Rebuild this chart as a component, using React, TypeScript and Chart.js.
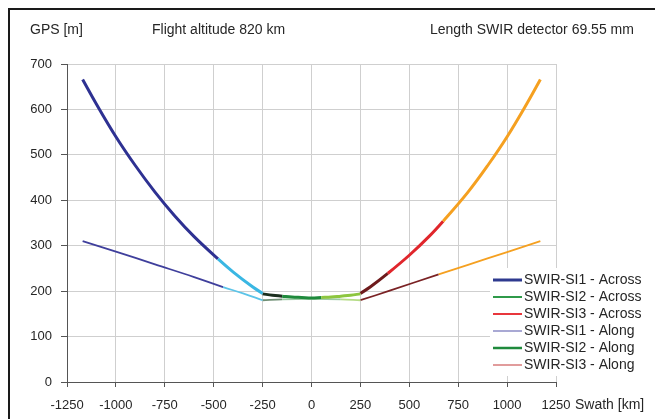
import { useEffect, useRef } from 'react';
import { Chart, registerables } from 'chart.js';

Chart.register(...registerables);

const FONT = '"Liberation Sans", Arial, Helvetica, sans-serif';
const TEXT = '#262626';

// ---- data ----
const si1AcrossX = [-1170, -1100, -1000, -900, -800, -700, -600, -478, -400, -300, -250];
const si1AcrossY = [666, 612, 540, 476, 418, 366, 320, 271, 242, 209, 195];
const si1AcrossBreaks = [-478];
const si1AcrossColors = ['#2e3192', '#3ab7e3'];

const si2AcrossX = [-250, -200, -150, -100, -50, 0, 50, 100, 150, 200, 250];
const si2AcrossY = [194, 191, 189, 187, 186, 185, 186, 187, 189, 191, 194];
const si2AcrossBreaks = [-150, 50];
const si2AcrossColors = ['#1b2e1e', '#1f8a3c', '#8dc63f'];

const si3AcrossX = [250, 300, 390, 500, 600, 673, 800, 900, 1000, 1100, 1170];
const si3AcrossY = [195, 209, 239, 279, 320, 354, 418, 476, 540, 612, 666];
const si3AcrossBreaks = [390, 673];
const si3AcrossColors = ['#6e1a1c', '#e0262c', '#f5a020'];

const si1AlongX = [-1170, -1000, -800, -600, -452, -350, -250];
const si1AlongY = [310, 287, 259, 231, 209, 195, 180];
const si1AlongBreaks = [-452];
const si1AlongColors = ['#3f3f9c', '#5cc4e8'];

const si2AlongX = [-250, -150, 0, 150, 250];
const si2AlongY = [180, 182, 183, 182, 180];
const si2AlongBreaks = [-150, 50];
const si2AlongColors = ['#6f8f74', '#9ccaa4', '#b5dc86'];

const si3AlongX = [250, 400, 650, 800, 1000, 1170];
const si3AlongY = [180, 201, 237, 258, 286, 310];
const si3AlongBreaks = [420, 650];
const si3AlongColors = ['#7a2224', '#d83a3e', '#f5a020'];

const legendLabels = [
  'SWIR-SI1 - Across',
  'SWIR-SI2 - Across',
  'SWIR-SI3 - Across',
  'SWIR-SI1 - Along',
  'SWIR-SI2 - Along',
  'SWIR-SI3 - Along',
];
const legendColors = ['#2e3a8f', '#2f9a4a', '#e8363c', '#a9a9d4', '#1f8a3c', '#d77b7b'];
const legendWidths = [3, 2, 2, 2, 2.5, 1.5];

function pts(xs: number[], ys: number[]) {
  return xs.map((x, i) => ({ x, y: ys[i] }));
}

function segColor(breaks: number[], colors: string[]) {
  return (ctx: any) => {
    const x0 = ctx.p0.parsed.x;
    let idx = 0;
    for (const b of breaks) if (x0 >= b) idx++;
    return colors[idx];
  };
}

function ds(label: string, xs: number[], ys: number[], breaks: number[], colors: string[], width: number) {
  return {
    label,
    data: pts(xs, ys),
    borderColor: colors[0],
    borderWidth: width,
    pointRadius: 0,
    tension: 0.4,
    segment: { borderColor: segColor(breaks, colors) },
    fill: false,
  };
}

const overlayPlugin = {
  id: 'overlay',
  afterDraw(chart: any) {
    const c = chart.ctx as CanvasRenderingContext2D;
    c.save();
    // frame
    c.fillStyle = '#1a1a1a';
    c.fillRect(8, 8, 2, 419);
    c.fillRect(8, 8, 655, 2);

    c.fillStyle = TEXT;
    c.font = `14px ${FONT}`;
    c.textBaseline = 'middle';
    c.textAlign = 'left';
    c.fillText('GPS [m]', 30, 30);
    c.fillText('Flight altitude 820 km', 152, 30);
    c.fillText('Length SWIR detector 69.55 mm', 430, 30);
    c.fillText('Swath [km]', 575, 405);

    // legend
    c.fillStyle = '#ffffff';
    c.fillRect(490, 268, 165, 108);
    for (let i = 0; i < legendLabels.length; i++) {
      const y = 280 + i * 17;
      c.strokeStyle = legendColors[i];
      c.lineWidth = legendWidths[i];
      c.beginPath();
      c.moveTo(493, y);
      c.lineTo(522, y);
      c.stroke();
      c.fillStyle = TEXT;
      c.fillText(legendLabels[i], 524, y);
    }
    c.restore();
  },
};

export default function App() {
  const ref = useRef<HTMLCanvasElement>(null);
  useEffect(() => {
    if (!ref.current) return;
    const chart = new Chart(ref.current, {
      type: 'line',
      data: {
        datasets: [
          ds('SWIR-SI1 - Across', si1AcrossX, si1AcrossY, si1AcrossBreaks, si1AcrossColors, 3),
          ds('SWIR-SI2 - Across', si2AcrossX, si2AcrossY, si2AcrossBreaks, si2AcrossColors, 3),
          ds('SWIR-SI3 - Across', si3AcrossX, si3AcrossY, si3AcrossBreaks, si3AcrossColors, 3),
          ds('SWIR-SI1 - Along', si1AlongX, si1AlongY, si1AlongBreaks, si1AlongColors, 1.8),
          ds('SWIR-SI2 - Along', si2AlongX, si2AlongY, si2AlongBreaks, si2AlongColors, 1.8),
          ds('SWIR-SI3 - Along', si3AlongX, si3AlongY, si3AlongBreaks, si3AlongColors, 1.8),
        ] as any,
      },
      options: {
        animation: false,
        responsive: false,
        maintainAspectRatio: false,
        layout: { padding: { left: 0, top: 64, right: 99, bottom: 0 } },
        plugins: { legend: { display: false }, tooltip: { enabled: false }, title: { display: false } },
        scales: {
          x: {
            type: 'linear',
            min: -1250,
            max: 1250,
            ticks: {
              stepSize: 250,
              color: TEXT,
              font: { family: FONT, size: 13 },
              padding: 11,
              maxRotation: 0,
              callback: (v: any) => String(v),
            },
            grid: { color: '#cfcfcf', lineWidth: 1, tickLength: 5, tickColor: '#555' },
            border: { color: '#555', width: 1 },
            afterFit: (s: any) => { s.height = 37; },
          },
          y: {
            type: 'linear',
            min: 0,
            max: 700,
            ticks: {
              stepSize: 100,
              color: TEXT,
              font: { family: FONT, size: 13 },
              padding: 9,
              callback: (v: any) => String(v),
            },
            grid: { color: '#cfcfcf', lineWidth: 1, tickLength: 6, tickColor: '#555' },
            border: { color: '#555', width: 1 },
            afterFit: (s: any) => { s.width = 67; },
          },
        },
      } as any,
      plugins: [overlayPlugin],
    });
    return () => chart.destroy();
  }, []);
  return (
    <div style={{ position: 'fixed', left: 0, top: 0, width: 655, height: 419, background: '#fff' }}>
      <canvas ref={ref} width={655} height={419} style={{ display: 'block', width: 655, height: 419 }} />
    </div>
  );
}
